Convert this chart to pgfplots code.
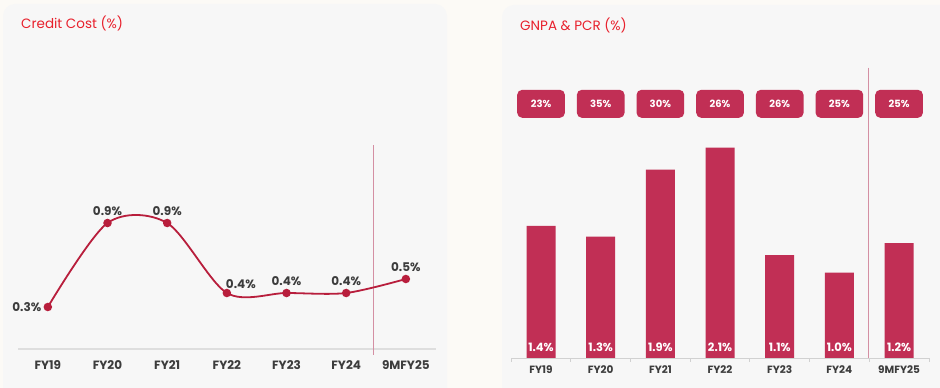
\documentclass[border=0pt]{standalone}
\usepackage{pgfplots}
\usepackage{pgfplotstable}
\pgfplotsset{compat=1.18}
\usepackage{fontspec}
\setmainfont{Poppins}
\definecolor{barc}{HTML}{C12F55}
\definecolor{linec}{HTML}{B81E3C}
\definecolor{ttl}{HTML}{E8202C}
\definecolor{card}{HTML}{F7F7F7}
\definecolor{lbl}{HTML}{3C3C3C}
\definecolor{sep}{HTML}{D48FA3}
\definecolor{bg}{HTML}{FCFAF6}
\pgfplotstableread{
x y dx dy
0 0.3 -21 0
1 0.9 0 12
2 0.9 0 12
3 0.4 14 9
4 0.4 0 12
5 0.4 0 12
6 0.5 0 12
}\credit
\pgfplotstableread{
x g p
0 1.387 23
1 1.290 35
2 1.897 30
3 2.097 26
4 1.121 26
5 0.963 25
6 1.230 25
}\gnpa
\begin{document}
\begin{tikzpicture}[x=1pt,y=1pt]
\useasboundingbox (0,0) rectangle (940,388);
\clip (0,0) rectangle (940,388);
\fill[bg] (0,0) rectangle (940,388);
\fill[card, rounded corners=12pt] (3,-30) rectangle (447,384);
\fill[card, rounded corners=12pt] (502,-30) rectangle (980,383);
\node[anchor=west, text=ttl, font=\fontsize{13.5}{16}\selectfont, inner sep=0pt] at (21,365) {Credit Cost (\%)};
\node[anchor=west, text=ttl, font=\fontsize{13.5}{16}\selectfont, inner sep=0pt] at (520,363) {GNPA \& PCR (\%)};

\begin{axis}[at={(18pt,39pt)}, anchor=south west, scale only axis,
  width=417.7pt, height=210pt, xmin=-0.5, xmax=6.5, ymin=0, ymax=1.5,
  clip=false, hide y axis, axis x line*=bottom,
  axis line style={-, draw=black!13, line width=1.8pt},
  xtick={0,...,6}, xticklabels={FY19,FY20,FY21,FY22,FY23,FY24,9MFY25},
  major tick length=0pt,
  xticklabel style={font=\fontsize{12}{14}\selectfont\bfseries, text=lbl, anchor=center, yshift=-16pt},
  ]
\draw[sep, line width=1pt] (axis cs:5.45,1.457) -- (axis cs:5.45,-0.043);
\addplot[linec, line width=1.8pt, smooth, mark=*, mark size=3.3pt, mark options={solid, fill=linec, draw=none}] table[x=x,y=y] {\credit};
\addplot[draw=none, mark=none,
  visualization depends on={\thisrow{dx} \as \dx},
  visualization depends on={\thisrow{dy} \as \dy},
  nodes near coords={\pgfmathprintnumber[fixed,precision=1,fixed zerofill,assume math mode=true]{\pgfplotspointmeta}\%}, point meta=y,
  nodes near coords style={anchor=center, xshift=\dx pt, yshift=\dy pt, font=\fontsize{12}{14}\selectfont\bfseries, text=lbl}]
  table[x=x,y=y] {\credit};
\end{axis}

\begin{axis}[at={(511.2pt,30pt)}, anchor=south west, scale only axis,
  width=417.7pt, height=298pt, xmin=-0.5, xmax=6.5, ymin=0.19, ymax=2.89,
  hide y axis, axis x line*=bottom,
  axis line style={-, draw=black!18, line width=0.8pt},
  xtick={0,...,6}, xticklabels={FY19,FY20,FY21,FY22,FY23,FY24,9MFY25},
  minor xtick={-0.5,0.5,...,6.5},
  major tick length=0pt, minor tick length=4pt, tick align=outside,
  minor tick style={draw=black!18, line width=0.8pt},
  xticklabel style={font=\fontsize{10.5}{12}\selectfont\bfseries, text=lbl, anchor=center, yshift=-12pt},
  ]
\draw[sep, line width=1pt] (axis cs:5.48,2.82) -- (axis cs:5.48,0.19);
\addplot[ybar, bar width=29pt, fill=barc, draw=none] table[x=x,y=g] {\gnpa};
\addplot[draw=none, mark=none, nodes near coords={\pgfmathprintnumber[fixed,precision=1,fixed zerofill,assume math mode=true]{\pgfplotspointmeta}\%}, point meta=explicit,
  nodes near coords style={anchor=center, font=\fontsize{11.5}{13}\selectfont\bfseries, text=white}]
  table[x=x,y expr=0.29,meta=g] {\gnpa};
\addplot[draw=none, mark=none, nodes near coords={\pgfmathprintnumber[assume math mode=true]{\pgfplotspointmeta}\%}, point meta=explicit,
  nodes near coords style={anchor=center, fill=barc, rounded corners=5pt, minimum width=47.7pt, minimum height=28pt, inner sep=0pt, font=\fontsize{10}{12}\selectfont\bfseries, text=white}]
  table[x=x,y expr=2.493,meta=p] {\gnpa};
\end{axis}
\end{tikzpicture}
\end{document}
